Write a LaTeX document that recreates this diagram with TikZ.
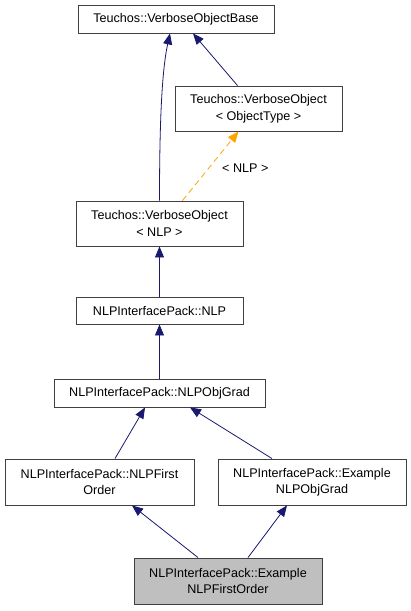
\documentclass[tikz,border=0pt]{standalone}
\usepackage{fontspec}
\setmainfont{Liberation Sans}
\usetikzlibrary{arrows.meta}
\definecolor{edgeblue}{HTML}{191970}
\definecolor{edgeorange}{HTML}{FFA500}
\definecolor{boxgray}{HTML}{BFBFBF}
\begin{document}
\begin{tikzpicture}[x=1pt,y=-1pt,
  cls/.style={draw=black!75,line width=0.9pt,rectangle,inner sep=0pt,align=center,
    font=\fontsize{12.6}{16.5}\selectfont},
  inh/.style={draw=edgeblue,line width=0.8pt,-{Triangle[length=11pt,width=9pt,fill=edgeblue]}},
  tmpl/.style={draw=edgeorange,line width=0.8pt,dash pattern=on 6pt off 4pt,
    -{Triangle[length=11pt,width=9pt,fill=edgeorange]}},
  lbl/.style={font=\fontsize{12.6}{15}\selectfont}]
\useasboundingbox (0,0) rectangle (411,611);
\node[cls,minimum width=196pt,minimum height=28pt] (vob) at (176,19) {Teuchos::VerboseObjectBase};
\node[cls,minimum width=167pt,minimum height=45pt] (voot) at (258.5,108.5) {Teuchos::VerboseObject\\\textless{} ObjectType \textgreater};
\node[cls,minimum width=167pt,minimum height=45pt] (vonlp) at (159.5,223.5) {Teuchos::VerboseObject\\\textless{} NLP \textgreater};
\node[cls,minimum width=167pt,minimum height=27pt] (nlp) at (159.5,310.5) {NLPInterfacePack::NLP};
\node[cls,minimum width=211pt,minimum height=28pt] (objgrad) at (159.5,393) {NLPInterfacePack::NLPObjGrad};
\node[cls,minimum width=189pt,minimum height=46pt] (first) at (99.5,482) {NLPInterfacePack::NLPFirst\\Order};
\node[cls,minimum width=188pt,minimum height=46pt] (exobj) at (312,482) {NLPInterfacePack::Example\\NLPObjGrad};
\node[cls,fill=boxgray,minimum width=188pt,minimum height=46pt] (exfirst) at (228,581) {NLPInterfacePack::Example\\NLPFirstOrder};
% edges
\draw[inh] (vonlp.north) .. controls (159.5,120) and (162,70) .. ([xshift=-6pt]vob.south);
\draw[inh] ([xshift=-21pt]voot.north) -- ([xshift=17pt]vob.south);
\draw[tmpl] ([xshift=23pt]vonlp.north) -- node[lbl,right,xshift=8pt,yshift=-2pt] {\textless{} NLP \textgreater} ([xshift=-20pt]voot.south);
\draw[inh] (nlp.north) -- (vonlp.south);
\draw[inh] (objgrad.north) -- (nlp.south);
\draw[inh] ([xshift=15.5pt]first.north) -- ([xshift=-14.5pt]objgrad.south);
\draw[inh] ([xshift=-40pt]exobj.north) -- ([xshift=30.5pt]objgrad.south);
\draw[inh] ([xshift=-30pt]exfirst.north) -- ([xshift=32.5pt]first.south);
\draw[inh] ([xshift=20pt]exfirst.north) -- ([xshift=-25pt]exobj.south);
\end{tikzpicture}
\end{document}
